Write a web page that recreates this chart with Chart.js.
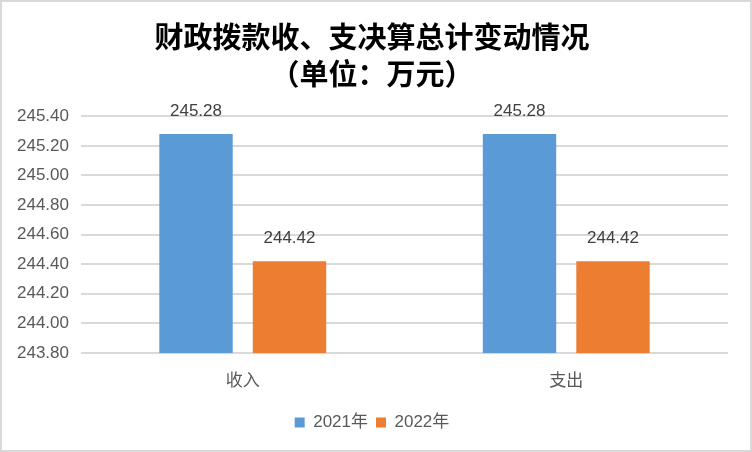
<!DOCTYPE html>
<html>
<head>
<meta charset="utf-8">
<script src="https://cdn.jsdelivr.net/npm/chart.js@4"></script>
<style>
    html, body { margin: 0; padding: 0; background: #fff; }
    #wrap {
        width: 752px; height: 452px;
        box-sizing: border-box;
        border: 2px solid #d9d9d9;
        position: relative;
    }
</style>
</head>
<body>
<div id="wrap"><canvas id="chart"></canvas></div>
<script>
// chart data
const categories = ['收入', '支出'];
const seriesNames = ['2021年', '2022年'];
const values2021 = [245.28, 245.28];
const values2022 = [244.42, 244.42];
const yTicks = [243.80, 244.00, 244.20, 244.40, 244.60, 244.80, 245.00, 245.20, 245.40];

const labelFont = '"Liberation Sans", Arial, "Noto Sans CJK SC", sans-serif';
const cjkFont = '"Noto Sans CJK SC", "Liberation Sans", sans-serif';

// draws the value above every bar
const barValueLabels = {
    id: 'barValueLabels',
    afterDatasetsDraw(chart) {
        const { ctx } = chart;
        ctx.save();
        ctx.font = '17px ' + labelFont;
        ctx.fillStyle = '#404040';
        ctx.textAlign = 'center';
        ctx.textBaseline = 'bottom';
        chart.data.datasets.forEach((ds, i) => {
            chart.getDatasetMeta(i).data.forEach((bar, j) => {
                ctx.fillText(ds.data[j].toFixed(2), bar.x, bar.y - 14);
            });
        });
        ctx.restore();
    }
};

new Chart(document.getElementById('chart'), {
    type: 'bar',
    data: {
        labels: categories,
        datasets: [
            { label: seriesNames[0], data: values2021, backgroundColor: '#5b9bd5' },
            { label: seriesNames[1], data: values2022, backgroundColor: '#ed7d31' }
        ]
    },
    options: {
        responsive: true,
        maintainAspectRatio: false,
        animation: false,
        categoryPercentage: 0.578,
        barPercentage: 0.785,
        layout: { padding: { left: 14, right: 22, top: 0, bottom: 9 } },
        scales: {
            x: {
                grid: { display: false },
                border: { display: false },
                afterFit: (scale) => { scale.height = 53; },
                ticks: {
                    color: '#595959',
                    font: { size: 17, family: cjkFont },
                    padding: 8
                }
            },
            y: {
                min: 243.8,
                max: 245.4,
                afterBuildTicks: (scale) => {
                    scale.ticks = yTicks.map(v => ({ value: v }));
                },
                afterFit: (scale) => { scale.width = 65; },
                grid: { color: '#d9d9d9', lineWidth: 2, drawTicks: false },
                border: { display: false },
                ticks: {
                    color: '#595959',
                    font: { size: 17, family: labelFont },
                    padding: 12,
                    callback: (v) => Number(v).toFixed(2)
                }
            }
        },
        plugins: {
            title: {
                display: true,
                text: ['财政拨款收、支决算总计变动情况', '（单位：万元）'],
                color: '#000',
                font: { size: 29, family: cjkFont, weight: 'bold', lineHeight: 1.28 },
                padding: { top: 16, bottom: 24 }
            },
            legend: {
                position: 'bottom',
                labels: {
                    color: '#595959',
                    font: { size: 17, family: labelFont },
                    boxWidth: 10,
                    boxHeight: 10,
                    padding: 8
                }
            },
            tooltip: { enabled: false }
        }
    },
    plugins: [barValueLabels]
});
</script>
</body>
</html>
